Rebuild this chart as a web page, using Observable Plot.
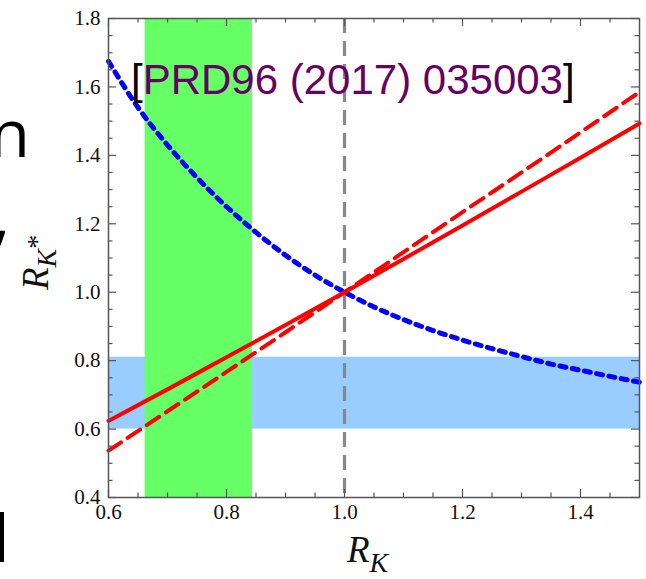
<!DOCTYPE html>
<html>
<head>
<meta charset="utf-8">
<script src="https://cdn.jsdelivr.net/npm/d3@7"></script>
<script src="https://cdn.jsdelivr.net/npm/@observablehq/plot@0.6"></script>
<style>
  html, body { margin: 0; padding: 0; background: #fff; }
  #chart { position: relative; width: 646px; height: 579px; overflow: hidden; }
  #chart svg g[aria-label$="tick label"] { font-family: "Liberation Serif", serif; font-size: 21px !important; }
  #chart svg g[aria-label$="tick label"] text { font-size: 21px !important; }
</style>
</head>
<body>
<div id="chart"></div>
<script>
// R_K values along the horizontal axis
const rK = [0.6, 0.65, 0.7, 0.75, 0.8, 0.85, 0.9, 0.95, 1.0, 1.05, 1.1, 1.15, 1.2, 1.25, 1.3, 1.35, 1.4, 1.45, 1.5];
// blue dotted curve
const blueCurve = [1.675, 1.54, 1.43, 1.335, 1.25, 1.175, 1.108, 1.05, 1.0, 0.957, 0.92, 0.888, 0.86, 0.835, 0.812, 0.79, 0.772, 0.754, 0.737];

// red lines
const redX = [0.6, 0.7, 0.8, 0.9, 1.0, 1.1, 1.2, 1.3, 1.4, 1.5];
const redSolid = [0.624, 0.716, 0.810, 0.904, 1.0, 1.097, 1.195, 1.294, 1.393, 1.493];
const redDashed = [0.537, 0.652, 0.767, 0.883, 1.0, 1.117, 1.234, 1.35, 1.467, 1.585];

// measured bands
const greenBand = [{x1: 0.662, x2: 0.844, y1: 0.4, y2: 1.8}];
const blueBand = [{x1: 0.6, x2: 1.5, y1: 0.6, y2: 0.81}];
const refLine = [1.0];

// axis ticks
const xMajor = [0.6, 0.8, 1.0, 1.2, 1.4];
const xMinor = [0.65, 0.7, 0.75, 0.85, 0.9, 0.95, 1.05, 1.1, 1.15, 1.25, 1.3, 1.35, 1.45];
const yMajor = [0.4, 0.6, 0.8, 1.0, 1.2, 1.4, 1.6, 1.8];
const yMinor = [0.45, 0.5, 0.55, 0.65, 0.7, 0.75, 0.85, 0.9, 0.95, 1.05, 1.1, 1.15, 1.25, 1.3, 1.35, 1.45, 1.5, 1.55, 1.65, 1.7, 1.75];

const W = 646, H = 579;
const M = {top: 18, right: 7, bottom: 82, left: 108};
const innerW = W - M.left - M.right;
const innerH = H - M.top - M.bottom;
const axisColor = "#555";

const blueData = rK.map((x, i) => ({x, y: blueCurve[i]}));
const solidData = redX.map((x, i) => ({x, y: redSolid[i]}));
const dashedData = redX.map((x, i) => ({x, y: redDashed[i]}));

const chart = Plot.plot({
  width: W,
  height: H,
  marginTop: M.top,
  marginRight: M.right,
  marginBottom: M.bottom,
  marginLeft: M.left,
  style: {fontFamily: "Liberation Serif", fontSize: "21px", background: "transparent", color: "#111"},
  x: {domain: [0.6, 1.5]},
  y: {domain: [0.4, 1.8]},
  marks: [
    Plot.rect(blueBand, {x1: "x1", x2: "x2", y1: "y1", y2: "y2", fill: "#99ccff"}),
    Plot.rect(greenBand, {x1: "x1", x2: "x2", y1: "y1", y2: "y2", fill: "#66ff66"}),
    Plot.ruleX(refLine, {x: d => d, stroke: "#888", strokeWidth: 3.2, strokeDasharray: "15,8"}),
    Plot.line(blueData, {x: "x", y: "y", curve: "monotone-x", stroke: "#0000ff", strokeWidth: 5, strokeDasharray: "6,6.5"}),
    Plot.line(dashedData, {x: "x", y: "y", curve: "monotone-x", stroke: "#ff0000", strokeWidth: 4, strokeDasharray: "15,8"}),
    Plot.line(solidData, {x: "x", y: "y", curve: "monotone-x", stroke: "#ff0000", strokeWidth: 4}),
    Plot.frame({stroke: axisColor, strokeWidth: 1.5}),
    // inward ticks on all four sides
    Plot.tickX(xMajor, {x: d => d, insetTop: innerH - 8, stroke: axisColor, strokeWidth: 1.2}),
    Plot.tickX(xMinor, {x: d => d, insetTop: innerH - 4.5, stroke: axisColor, strokeWidth: 1.2}),
    Plot.tickX(xMajor, {x: d => d, insetBottom: innerH - 8, stroke: axisColor, strokeWidth: 1.2}),
    Plot.tickX(xMinor, {x: d => d, insetBottom: innerH - 4.5, stroke: axisColor, strokeWidth: 1.2}),
    Plot.tickY(yMajor, {y: d => d, insetRight: innerW - 8, stroke: axisColor, strokeWidth: 1.2}),
    Plot.tickY(yMinor, {y: d => d, insetRight: innerW - 4.5, stroke: axisColor, strokeWidth: 1.2}),
    Plot.tickY(yMajor, {y: d => d, insetLeft: innerW - 8, stroke: axisColor, strokeWidth: 1.2}),
    Plot.tickY(yMinor, {y: d => d, insetLeft: innerW - 4.5, stroke: axisColor, strokeWidth: 1.2}),
    Plot.axisX({ticks: xMajor, tickSize: 0, tickPadding: 7, tickFormat: d3.format(".1f"), label: null, fill: "#111", fontSize: 21}),
    Plot.axisY({ticks: yMajor, tickSize: 0, tickPadding: 8, tickFormat: d3.format(".1f"), label: null, fill: "#111", fontSize: 21})
  ]
});

document.getElementById("chart").append(chart);

const svg = d3.select(chart);

// citation annotation inside the frame
const note = svg.append("text")
  .attr("x", 131).attr("y", 94)
  .attr("text-anchor", "start")
  .attr("font-family", "Liberation Sans, Arial, sans-serif")
  .attr("font-size", 42);
note.append("tspan").attr("fill", "#000").text("[");
note.append("tspan").attr("fill", "#660066").text("PRD96 (2017) 035003");
note.append("tspan").attr("fill", "#000").text("]");

// x axis title R_K
const xt = svg.append("text")
  .attr("x", 347).attr("y", 562)
  .attr("text-anchor", "start")
  .attr("font-family", "Liberation Serif, serif")
  .attr("font-style", "italic")
  .attr("fill", "#111");
xt.append("tspan").attr("font-size", 37).text("R");
xt.append("tspan").attr("font-size", 28).attr("dy", 10).text("K");

// y axis title R_K*
const yt = svg.append("text")
  .attr("transform", "translate(48,290) rotate(-90)")
  .attr("text-anchor", "start")
  .attr("font-family", "Liberation Serif, serif")
  .attr("fill", "#111");
yt.append("tspan").attr("font-size", 37).attr("font-style", "italic").text("R");
yt.append("tspan").attr("font-size", 28).attr("font-style", "italic").attr("dy", 8).text("K");
yt.append("tspan").attr("font-size", 28).attr("dy", -10).text("*");

// slide text running in from the left edge
const side = svg.append("g")
  .attr("font-family", "Open Sans, sans-serif")
  .attr("font-size", 66)
  .attr("fill", "#000");
side.append("text").attr("x", 30).attr("y", 157).attr("text-anchor", "end").text("n");
side.append("text").attr("x", 10).attr("y", 238).attr("text-anchor", "end").text(",");
side.append("text").attr("x", -7).attr("y", 562).attr("text-anchor", "start").text("l");
</script>
</body>
</html>
